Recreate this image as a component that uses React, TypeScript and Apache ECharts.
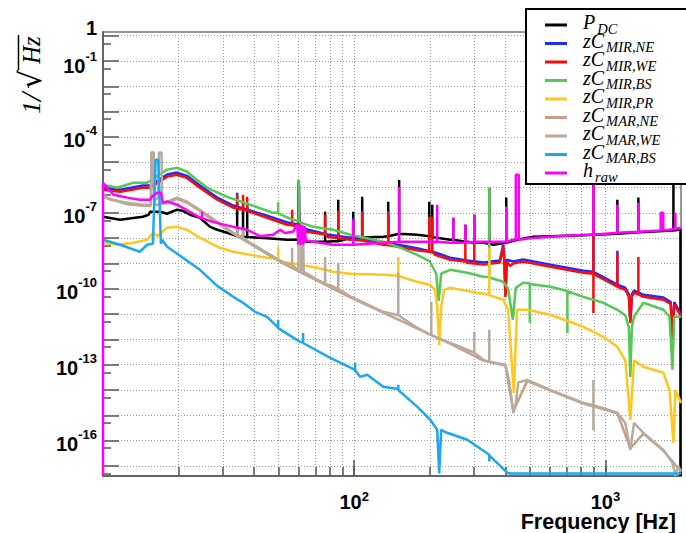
import React, { useEffect, useRef } from 'react';
import * as echarts from 'echarts';

// ---------- axis tick / label values ----------
const xTickValues = [20, 30, 40, 50, 60, 70, 80, 90, 100, 200, 300, 400, 500, 600, 700, 800, 900, 1000];
const xMajorTicks = [100, 1000];
const xLabelValues = [100, 1000];
const yDecadeTicks = [1, 1e-1, 1e-2, 1e-3, 1e-4, 1e-5, 1e-6, 1e-7, 1e-8, 1e-9, 1e-10, 1e-11, 1e-12, 1e-13, 1e-14, 1e-15, 1e-16, 1e-17];
const yMinorTicks = [5e-1, 5e-2, 5e-3, 5e-4, 5e-5, 5e-6, 5e-7, 5e-8, 5e-9, 5e-10, 5e-11, 5e-12, 5e-13, 5e-14, 5e-15, 5e-16, 5e-17, 5e-18];
const yLabelValues = [1e-1, 1e-4, 1e-7, 1e-10, 1e-13, 1e-16];
const yTopLabelValues = [1];

// ---------- series names (legend order) & colours ----------
const seriesNames = ['P_DC', 'zC_MIR,NE', 'zC_MIR,WE', 'zC_MIR,BS', 'zC_MIR,PR', 'zC_MAR,NE', 'zC_MAR,WE', 'zC_MAR,BS', 'h_raw'];
const seriesColors = ['#000000', '#1a2cff', '#ff0a0a', '#55c855', '#ffc61e', '#c6a08a', '#b8ab9d', '#1ca8f0', '#ff00ff'];

// ---------- data: [frequency Hz, amplitude 1/sqrt(Hz)] ----------
const pDC: [number, number][] = [
  [10, 7.0e-8], [11.7, 5.3e-8], [14.4, 7.0e-8], [15.2, 8.4e-8], [15.4, 1.1e-7], [16.9, 1.1e-7], [18.0, 9.2e-8], [19.7, 1.33e-7], [20.8, 1.2e-7], [22.2, 8.4e-8], [24.3, 6.4e-8], [26.7, 2.8e-8], [28.5, 2.15e-8], [31.2, 1.63e-8],
  [34.2, 1.2e-8], [34.2, 2.6e-7], [34.2, 1.2e-8], [36.1, 1.1e-8], [36.1, 2.6e-7], [36.1, 1.1e-8], [37.5, 1.1e-8], [37.5, 2.1e-7], [37.5, 1.1e-8],
  [45, 1.0e-8], [54, 8.6e-9], [59.8, 8.6e-9], [60.2, 2.0e-6], [60.6, 8.6e-9], [65, 7.2e-9],
  [76.6, 7.2e-9], [76.6, 1.1e-7], [76.6, 7.2e-9], [82.5, 7.5e-9], [86.4, 7.5e-9], [86.4, 3.3e-7], [86.4, 7.5e-9], [96.4, 1.0e-8],
  [99.1, 1.0e-8], [99.1, 1.1e-7], [99.1, 1.0e-8], [107.6, 1.05e-8], [107.6, 4.3e-7], [107.6, 1.05e-8], [130.5, 1.14e-8],
  [136.6, 1.2e-8], [136.6, 2.75e-7], [136.6, 1.2e-8], [151, 1.5e-8], [151, 2.0e-6], [151, 1.5e-8], [178, 1.36e-8],
  [199, 1.2e-8], [199, 2.75e-7], [199, 1.2e-8], [204.6, 1.2e-8], [204.6, 2.1e-7], [204.6, 1.1e-8], [241, 8.6e-9],
  [248, 8.6e-9], [248, 6.4e-8], [248, 8.6e-9], [277, 7.2e-9], [277, 3.4e-8], [277, 7.2e-9], [282, 7.2e-9],
  [300.7, 6.6e-9], [300.7, 8.4e-8], [300.7, 6.6e-9], [327, 6.6e-9], [345, 6.0e-9], [345, 9.8e-7], [345, 6.0e-9], [358, 5.5e-9],
  [403, 6.6e-9], [403, 4.0e-7], [403, 6.6e-9], [446, 8.6e-9], [517, 1.14e-8], [604, 1.2e-8], [818, 1.3e-8],
  [1116, 1.5e-8], [1116, 3.3e-7], [1116, 1.5e-8], [1353, 1.7e-8], [1353, 4.0e-7], [1353, 1.7e-8],
  [1866, 2.0e-8], [1866, 1.3e-6], [1866, 2.0e-8], [1990, 2.2e-8], [1990, 4e-18], [2000, 4e-18],
];

const mirNE: [number, number][] = [
  [10, 9.8e-7], [11.7, 8.2e-7], [14.4, 1.2e-6], [15.4, 1.2e-6], [18.0, 3.3e-6], [19.7, 3.9e-6], [21.6, 2.9e-6], [24.3, 1.2e-6], [28.5, 4.0e-7], [33, 1.95e-7],
  [34.2, 1.8e-7], [34.2, 6.2e-7], [34.2, 1.75e-7], [45, 7.8e-8], [54.1, 4.2e-8], [60.2, 3.4e-8], [60.2, 1.2e-6], [60.2, 3.2e-8], [65, 2.2e-8], [78.1, 1.4e-8], [96.4, 1.05e-8],
  [99.1, 1.05e-8], [99.1, 6.4e-8], [99.1, 1.05e-8], [107.6, 9.6e-9], [107.6, 1.2e-7], [107.6, 9.6e-9], [130.5, 6.6e-9], [136.6, 6.4e-9], [136.6, 1.2e-7], [136.6, 6.4e-9],
  [178, 4.0e-9], [210, 2.7e-9], [241, 1.7e-9], [282, 1.3e-9], [327, 1.1e-9], [380, 1.3e-9], [392, 5.5e-9], [396, 1.4e-9], [400, 6.0e-11], [405, 1.4e-9], [430, 1.2e-9], [471, 1.45e-9],
  [604, 9.0e-10], [818, 5.2e-10], [896, 4.7e-10], [896, 1.6e-6], [896, 4.7e-10], [1116, 1.45e-10], [1116, 3.2e-9], [1116, 1.45e-10],
  [1200, 1.1e-10], [1240, 6.0e-11], [1257, 5.5e-12], [1275, 6.0e-11], [1300, 8.5e-11], [1353, 7.2e-11], [1417, 5.8e-11], [1702, 4.5e-11], [1820, 3.0e-11], [1849, 1.2e-12], [1880, 3.0e-11], [2000, 9.6e-12],
];

const mirWE: [number, number][] = [
  [10, 8.2e-7], [11.7, 6.8e-7], [14.4, 9.8e-7], [15.4, 9.8e-7], [18.0, 2.7e-6], [19.7, 3.2e-6], [21.6, 2.4e-6], [24.3, 9.8e-7], [28.5, 3.3e-7], [33, 1.6e-7],
  [34.2, 1.5e-7], [34.2, 5.2e-7], [34.2, 1.45e-7], [36.1, 1.35e-7], [36.1, 5.2e-7], [36.1, 1.3e-7], [37.5, 1.25e-7], [37.5, 4.3e-7], [37.5, 1.2e-7],
  [45, 6.4e-8], [54.1, 3.4e-8], [56.6, 3.2e-8], [56.6, 1.33e-7], [56.6, 3.2e-8], [60.2, 2.8e-8], [60.2, 1.0e-6], [60.2, 2.6e-8], [65, 1.8e-8],
  [76.6, 1.4e-8], [76.6, 8.4e-8], [76.6, 1.4e-8], [78.1, 1.14e-8], [86.4, 1.0e-8], [86.4, 1.2e-7], [86.4, 1.0e-8], [96.4, 8.6e-9],
  [99.1, 8.6e-9], [99.1, 5.3e-8], [99.1, 8.6e-9], [107.6, 8.0e-9], [107.6, 1.0e-7], [107.6, 8.0e-9], [130.5, 5.5e-9],
  [136.6, 5.3e-9], [136.6, 1.0e-7], [136.6, 5.3e-9], [178, 3.3e-9], [199, 2.9e-9], [199, 7.0e-8], [199, 2.9e-9], [204.6, 2.8e-9], [204.6, 7.0e-8], [204.6, 2.8e-9], [210, 2.2e-9], [241, 1.4e-9],
  [277, 1.2e-9], [277, 3.4e-8], [277, 1.2e-9], [282, 1.07e-9], [300.7, 1.0e-9], [300.7, 8.4e-8], [300.7, 1.0e-9], [327, 9.0e-10],
  [380, 1.1e-9], [392, 4.6e-9], [396, 1.2e-9], [400, 4.8e-11], [405, 1.2e-9], [418, 8.0e-10], [430, 1.0e-9], [471, 1.2e-9], [604, 7.4e-10], [818, 4.3e-10],
  [896, 3.9e-10], [896, 1.3e-6], [896, 1.1e-11], [896, 3.9e-10], [1116, 1.2e-10], [1116, 2.6e-9], [1116, 1.2e-10],
  [1200, 9.0e-11], [1240, 5.0e-11], [1257, 4.5e-12], [1275, 5.0e-11], [1300, 7.0e-11], [1353, 6.0e-11], [1353, 1.8e-9], [1353, 6.0e-11], [1417, 4.8e-11], [1702, 3.7e-11], [1820, 2.5e-11], [1849, 1.0e-12], [1880, 2.5e-11], [2000, 8.0e-12],
];

const mirBS: [number, number][] = [
  [10, 1.29e-6], [11.4, 9.8e-7], [13.2, 1.55e-6], [15.0, 1.55e-6], [18.0, 5.1e-6], [19.7, 6.1e-6], [21.6, 4.2e-6], [23.7, 2.0e-6], [26, 9.8e-7], [31.2, 4.3e-7], [38.5, 2.1e-7], [47.6, 1.0e-7],
  [49.8, 1.0e-7], [49.8, 2.6e-7], [49.8, 9.5e-8], [57.1, 5.3e-8], [60.2, 4.6e-8], [60.2, 2.0e-6], [60.2, 4.4e-8], [68.6, 2.8e-8], [82.5, 2.15e-8], [96.4, 1.36e-8],
  [130.5, 7.2e-9], [152.5, 4.2e-9], [178, 2.2e-9], [200, 1.2e-9], [212, 4.0e-10], [217, 3.3e-11], [222, 4.0e-10], [241, 5.6e-10], [282, 4.3e-10], [327, 3.0e-10],
  [345, 2.9e-10], [345, 9.8e-7], [345, 2.8e-10], [392, 1.9e-10], [410, 1.0e-10], [428, 6.0e-12], [440, 1.1e-10], [471, 1.73e-10], [500, 1.6e-10], [500, 4.5e-12], [500, 1.55e-10],
  [604, 1.2e-10], [706, 8.2e-11], [706, 1.8e-12], [706, 8.0e-11], [818, 4.8e-11], [982, 2.8e-11], [1116, 1.48e-11],
  [1200, 9.0e-12], [1240, 3.0e-12], [1257, 3.3e-14], [1275, 3.0e-12], [1300, 8.0e-12], [1417, 2.8e-11], [1702, 1.48e-11], [1800, 8.0e-12], [1849, 6.3e-14], [1880, 8.0e-12], [2000, 7.8e-12],
];

const mirPR: [number, number][] = [
  [10, 6.6e-9], [11.4, 5.5e-9], [13.2, 6.6e-9], [15.0, 8.6e-9], [15.8, 1.63e-8], [16.5, 1.2e-8], [18.0, 2.6e-8], [19.7, 2.8e-8], [21.6, 2.15e-8], [24.3, 1.04e-8], [28.5, 4.6e-9], [33, 2.9e-9], [38.5, 2.2e-9], [45, 1.68e-9],
  [49.8, 1.5e-9], [49.8, 4.6e-9], [49.8, 1.45e-9], [52.1, 1.17e-9], [60.9, 8.9e-10], [71.2, 6.8e-10], [82.5, 4.7e-10], [96.4, 3.9e-10], [130.5, 3.6e-10],
  [149.8, 3.3e-10], [149.8, 1.8e-9], [149.8, 3.2e-10], [178, 1.9e-10], [201, 1.4e-10], [210, 9.0e-11], [214, 2.0e-11], [218, 6.1e-13], [222, 2.0e-11], [228, 9.0e-11], [241, 1.1e-10], [309, 6.9e-11],
  [345, 5.8e-11], [345, 4.2e-9], [345, 5.6e-11], [392, 3.7e-11], [410, 1.5e-11], [432, 7.7e-15], [445, 1.5e-11], [489, 1.48e-11], [604, 9.4e-12], [818, 3.15e-12], [982, 1.27e-12], [1116, 5.1e-13],
  [1200, 1.5e-13], [1257, 6.6e-16], [1300, 1.5e-13], [1417, 8.3e-14], [1702, 4.8e-14], [1800, 1.0e-14], [1866, 8.2e-17], [1900, 1.0e-14], [2000, 3.1e-15],
];

const marNE: [number, number][] = [
  [10, 4.3e-7], [12.5, 2.2e-7], [14.4, 1.9e-7], [15.5, 1.9e-7], [15.6, 2.4e-5], [15.9, 2.4e-5], [16.0, 2.0e-7], [18.0, 2.5e-7], [19.7, 3.6e-7], [21.6, 2.5e-7], [24.3, 1.2e-7], [28.5, 4.0e-8], [33, 1.5e-8],
  [38.5, 6.0e-9], [45, 2.4e-9], [52.1, 1.0e-9], [71.2, 2.1e-10], [96.4, 4.6e-11], [130.5, 1.15e-11], [178, 2.7e-12], [241, 6.8e-13], [327, 1.45e-13], [400, 9.2e-14], [430, 1.5e-15],
  [489, 2.3e-14], [604, 9.5e-15], [818, 2.9e-15], [1116, 1.2e-15], [1257, 5.0e-17], [1417, 1.9e-16], [1702, 4.0e-17], [2000, 6.0e-18],
];

const marWE: [number, number][] = [
  [10, 5.2e-7], [10.7, 3.3e-7], [12.5, 2.5e-7], [14.4, 2.1e-7], [15.5, 2.1e-7], [15.6, 2.4e-5], [15.9, 2.4e-5], [16.0, 3.0e-7], [16.6, 4.0e-7], [16.7, 2.4e-5], [17.1, 2.4e-5], [17.2, 2.5e-7],
  [18.0, 2.75e-7], [19.7, 4.0e-7], [21.6, 2.75e-7], [24.3, 1.33e-7], [28.5, 4.4e-8], [33, 1.63e-8], [34.2, 1.4e-8], [34.2, 2.6e-8], [34.2, 1.3e-8], [36.1, 1.1e-8], [36.1, 2.6e-8], [36.1, 1.0e-8],
  [38.5, 6.6e-9], [45, 2.65e-9], [52.1, 1.07e-9], [56.6, 9.0e-10], [56.6, 4.2e-9], [56.6, 8.5e-10], [60, 5.5e-10], [60, 2.6e-8], [61.5, 2.6e-8], [61.5, 5.0e-10], [62.5, 2.6e-8], [63, 4.7e-10],
  [71.2, 2.3e-10], [76.6, 1.6e-10], [76.6, 1.84e-9], [76.6, 1.6e-10], [82.5, 1.2e-10], [86.4, 1.0e-10], [86.4, 1.07e-9], [86.4, 1.0e-10], [96.4, 5.0e-11], [130.5, 1.23e-11],
  [149.8, 9.0e-12], [149.8, 4.3e-10], [149.8, 9.0e-12], [178, 2.9e-12], [201, 1.52e-12], [202.7, 1.5e-12], [202.7, 3.1e-11], [202.7, 1.45e-12], [241, 7.3e-13], [282, 3.9e-13],
  [300.7, 3.0e-13], [300.7, 2.0e-12], [300.7, 3.0e-13], [327, 1.56e-13], [345, 1.3e-13], [345, 2.4e-12], [345, 1.3e-13], [400, 9.9e-14], [415, 2.0e-14], [430, 1.2e-15], [440, 3.0e-15], [450, 2.0e-14],
  [489, 2.5e-14], [604, 1.02e-14], [818, 3.1e-15], [896, 2.5e-15], [896, 2.5e-14], [896, 2.5e-16], [896, 2.5e-15], [1116, 1.26e-15], [1200, 5.0e-16], [1257, 4.3e-17], [1300, 5.0e-16],
  [1417, 2.0e-16], [1702, 4.3e-17], [1849, 1.33e-17], [1900, 4.0e-18], [1950, 1.0e-17], [2000, 6.0e-18],
];

const marBS: [number, number][] = [
  [10, 8.6e-9], [11.7, 5.5e-9], [14.0, 2.9e-9], [15.0, 5.5e-9], [15.8, 6.0e-9], [16.2, 1.26e-5], [16.6, 1.26e-5], [17.0, 6.0e-9], [17.2, 8.6e-9], [18.0, 4.6e-9], [20.8, 1.68e-9], [24.3, 5.6e-10],
  [28.5, 1.3e-10], [33, 4.8e-11], [36.1, 2.8e-11], [40.3, 1.23e-11], [45, 7.8e-12], [49.8, 2.9e-12], [49.8, 6.0e-12], [49.8, 2.8e-12], [60.9, 8.0e-13], [62.6, 7.5e-13], [62.6, 1.8e-12], [62.6, 7.2e-13],
  [80.3, 1.87e-13], [100.9, 6.3e-14], [100.9, 1.19e-13], [100.9, 6.0e-14], [105.7, 3.3e-14], [112.7, 4.0e-14], [130.5, 1.34e-14], [149.8, 1.1e-14], [149.8, 1.6e-14], [149.8, 1.0e-14],
  [178, 2.2e-15], [201, 6.6e-16], [214, 2.7e-16], [218, 5.0e-18], [222, 2.7e-16], [230, 2.2e-16], [282, 1.08e-16], [345, 2.75e-17], [345, 1.5e-17], [345, 2.6e-17], [407, 5.3e-18], [420, 5.0e-18], [2000, 5.0e-18],
];

const hRaw: [number, number][] = [
  [10, 4e-18], [10, 1.55e-6], [11, 5.2e-7], [12.5, 4.0e-7], [14.0, 3.3e-7], [15.4, 3.3e-7], [15.7, 4.5e-7], [16.4, 6.2e-7], [17.0, 6.2e-7], [17.3, 2.5e-7], [18.0, 2.8e-7], [19.7, 2.1e-7],
  [22.2, 1.1e-7], [24.3, 6.4e-8], [24.8, 6.4e-8], [24.8, 1.1e-7], [24.8, 6.0e-8], [27.4, 4.4e-8], [33.0, 2.8e-8], [37.5, 2.15e-8], [42.2, 1.2e-8], [47.6, 1.36e-8], [50.7, 2.15e-8], [53, 1.6e-8], [57.1, 1.8e-8],
  [59.3, 3.4e-8], [60, 5.5e-9], [60.6, 3.4e-8], [61.3, 5.5e-9], [62, 3.4e-8], [62.7, 5.5e-9], [63.5, 3.0e-8], [64.2, 8.0e-9],
  [68.6, 7.2e-9], [82.5, 5.5e-9], [96.4, 5.5e-9], [99.1, 5.5e-9], [99.1, 5.3e-8], [99.1, 5.5e-9], [130.5, 6.6e-9],
  [151, 7.2e-9], [151, 1.08e-6], [151, 7.2e-9], [178, 7.2e-9], [214, 7.2e-9], [214, 2.1e-7], [214, 7.2e-9], [241, 6.6e-9],
  [248, 6.6e-9], [248, 6.4e-8], [248, 6.6e-9], [277, 6.6e-9], [277, 3.4e-8], [277, 6.6e-9], [300.7, 7.2e-9], [300.7, 8.4e-8], [300.7, 7.2e-9], [327, 7.2e-9],
  [403, 7.2e-9], [403, 1.8e-7], [403, 7.2e-9], [430, 8.6e-9], [440, 8.6e-9], [440, 3.2e-6], [446, 3.2e-6], [452, 3.2e-6], [452, 8.6e-9],
  [500, 1.0e-8], [604, 1.14e-8], [818, 1.36e-8], [896, 1.36e-8], [896, 1.3e-6], [896, 1.36e-8],
  [1116, 1.63e-8], [1116, 2.1e-7], [1116, 1.63e-8], [1353, 1.8e-8], [1353, 2.5e-7], [1353, 1.8e-8],
  [1660, 2.0e-8], [1660, 1.0e-7], [1700, 1.0e-7], [1700, 2.0e-8], [1900, 2.3e-8], [1900, 1.0e-7], [1900, 2.3e-8], [2000, 2.6e-8],
];

const seriesData = [pDC, mirNE, mirWE, mirBS, mirPR, marNE, marWE, marBS, hRaw];

const SANS = '"Liberation Sans", Arial, sans-serif';
const SERIF = '"Liberation Serif", "Times New Roman", serif';
const LEGEND_MAIN_FONT = 'italic 20px ' + SERIF;
const LEGEND_SUB_FONT = 'italic 14.5px ' + SERIF;

const boldSans = { fontWeight: 'bold', fontFamily: SANS, color: '#000' };

const yRich = {
  b: { ...boldSans, fontSize: 20, lineHeight: 26, verticalAlign: 'bottom' },
  s: { ...boldSans, fontSize: 13, lineHeight: 13, verticalAlign: 'top' },
  b1: { ...boldSans, fontSize: 20, lineHeight: 30, verticalAlign: 'bottom' },
  s1: { ...boldSans, fontSize: 13, lineHeight: 13, padding: [4, 0, 0, 0], verticalAlign: 'top' },
  one: { ...boldSans, fontSize: 20, lineHeight: 2, padding: [0, 0, 15, 0] },
};

const xRich = {
  b: { ...boldSans, fontSize: 20, lineHeight: 24, verticalAlign: 'bottom' },
  s: { ...boldSans, fontSize: 13, lineHeight: 9, padding: [1.5, 0, 0, 0], verticalAlign: 'top' },
};

function expOf(v: number) {
  return Math.round(Math.log10(v));
}

function yLabel(v: number) {
  const e = expOf(v);
  if (e === 0) return '{one|1}';
  if (e === -1) return '{b1|10}{s1|' + e + '}';
  return '{b|10}{s|' + e + '}';
}

function xLabel(v: number) {
  return '{b|10}{s|' + expOf(v) + '}';
}

function measure(text: string, font: string): number {
  try {
    const ctx = document.createElement('canvas').getContext('2d');
    if (ctx) {
      ctx.font = font;
      return ctx.measureText(text).width;
    }
  } catch (e) { /* ignore */ }
  return text.length * 10;
}

// legend drawn as graphic elements (box, line samples, main text + lowered subscript)
function buildLegend(): any[] {
  const boxX = 526, boxY = 9, boxH = 175;
  const firstRow = 25, rowStep = 18.5;
  const lineX1 = 545, lineX2 = 567, textX = 583;
  const els: any[] = [
    { type: 'rect', z: 100, silent: true, shape: { x: boxX, y: boxY, width: 200, height: boxH }, style: { fill: '#ffffff', stroke: '#000000', lineWidth: 2 } },
  ];
  seriesNames.forEach((name, i) => {
    const [main, sub] = name.split('_');
    const cy = firstRow + i * rowStep;
    const mainW = measure(main, LEGEND_MAIN_FONT);
    els.push({ type: 'line', z: 101, silent: true, shape: { x1: lineX1, y1: cy, x2: lineX2, y2: cy }, style: { stroke: seriesColors[i], lineWidth: 3 } });
    els.push({ type: 'text', z: 101, silent: true, x: textX, y: cy - 3, style: { text: main, font: LEGEND_MAIN_FONT, fill: '#000', textVerticalAlign: 'middle', lineHeight: 16 } });
    els.push({ type: 'text', z: 101, silent: true, x: textX + mainW + 2, y: cy + 3.5, style: { text: sub, font: LEGEND_SUB_FONT, fill: '#000', textVerticalAlign: 'middle', lineHeight: 9 } });
  });
  return els;
}

const tickLine = { color: '#555', width: 1.5 };
const gridDots = { type: [1, 2] as any, color: '#9a9a9a', width: 1 };

function buildOption(): any {
  const X_MIN = 10, X_MAX = 2000, Y_MIN = 4e-18, Y_MAX = 1.4;
  return {
    animation: false,
    backgroundColor: '#ffffff',
    textStyle: { fontFamily: SANS },
    grid: { left: 103, right: 5, top: 32, bottom: 57, show: true, borderColor: '#777', borderWidth: 1.5, backgroundColor: 'transparent', outerBoundsMode: 'none', containLabel: false },
    xAxis: [
      {
        type: 'log', logBase: 10, min: X_MIN, max: X_MAX, gridIndex: 0, position: 'bottom',
        axisLine: { show: true, onZero: false, lineStyle: { color: '#666', width: 2 } },
        axisTick: { show: true, inside: true, length: 9, customValues: xTickValues, lineStyle: tickLine },
        minorTick: { show: false },
        splitLine: { show: true, lineStyle: gridDots },
        axisLabel: { show: true, customValues: xLabelValues, formatter: xLabel, margin: 12, rich: xRich },
      },
      {
        type: 'log', logBase: 10, min: X_MIN, max: X_MAX, gridIndex: 0, position: 'bottom', offset: 0,
        axisLine: { show: false, onZero: false },
        axisTick: { show: true, inside: true, length: 16, customValues: xMajorTicks, lineStyle: tickLine },
        splitLine: { show: false },
        axisLabel: { show: false },
      },
    ],
    yAxis: [
      {
        type: 'log', logBase: 10, min: Y_MIN, max: Y_MAX, gridIndex: 0, position: 'left',
        axisLine: { show: true, onZero: false, lineStyle: { color: '#666', width: 2 } },
        axisTick: { show: true, inside: true, length: 16, customValues: yDecadeTicks, lineStyle: tickLine },
        minorTick: { show: false },
        splitLine: { show: true, lineStyle: gridDots },
        axisLabel: { show: true, customValues: yLabelValues, formatter: yLabel, margin: 6, rich: yRich },
      },
      {
        type: 'log', logBase: 10, min: Y_MIN, max: Y_MAX, gridIndex: 0, position: 'left', offset: 0,
        axisLine: { show: false, onZero: false },
        axisTick: { show: true, inside: true, length: 8, customValues: yMinorTicks, lineStyle: tickLine },
        splitLine: { show: false },
        axisLabel: { show: true, customValues: yTopLabelValues, formatter: yLabel, margin: 6, rich: yRich },
      },
    ],
    graphic: [
      {
        type: 'text', right: 10, top: 511, silent: true,
        style: { text: 'Frequency [Hz]', font: 'bold 21.5px ' + SANS, fill: '#000' },
      },
      {
        type: 'group', x: 17, y: 114, rotation: Math.PI / 2, silent: true,
        children: [
          { type: 'text', x: 0, y: 14, style: { text: '1', font: 'italic 26px ' + SERIF, fill: '#000', textVerticalAlign: 'middle' } },
          { type: 'text', x: 13, y: 13, style: { text: '/', font: 'italic 30px ' + SERIF, fill: '#000', textVerticalAlign: 'middle' } },
          { type: 'text', x: 25, y: 13, style: { text: '\u221A', font: '30px "DejaVu Serif", serif', fill: '#000', textVerticalAlign: 'middle' } },
          { type: 'text', x: 50, y: 14, style: { text: 'Hz', font: 'italic 25px ' + SERIF, fill: '#000', textVerticalAlign: 'middle' } },
          { type: 'line', shape: { x1: 44, y1: 1.5, x2: 79, y2: 1.5 }, style: { stroke: '#000', lineWidth: 1.5 } },
        ],
      },
      ...buildLegend(),
    ],
    series: seriesNames.map((name, i) => ({
      type: 'line',
      name,
      xAxisIndex: 0,
      yAxisIndex: 0,
      data: seriesData[i],
      showSymbol: false,
      symbol: 'none',
      clip: true,
      silent: true,
      color: seriesColors[i],
      itemStyle: { color: seriesColors[i] },
      lineStyle: { color: seriesColors[i], width: 2.5 },
      emphasis: { disabled: true },
      z: 2 + i * 0.01,
    })),
  };
}

export default function App() {
  const ref = useRef<HTMLDivElement>(null);
  useEffect(() => {
    if (!ref.current) return;
    const chart = echarts.init(ref.current, undefined, { renderer: 'svg' });
    chart.setOption(buildOption());
    return () => chart.dispose();
  }, []);
  return (
    <div
      ref={ref}
      style={{ position: 'fixed', left: 0, top: 0, width: 686, height: 533, background: '#fff' }}
    />
  );
}
